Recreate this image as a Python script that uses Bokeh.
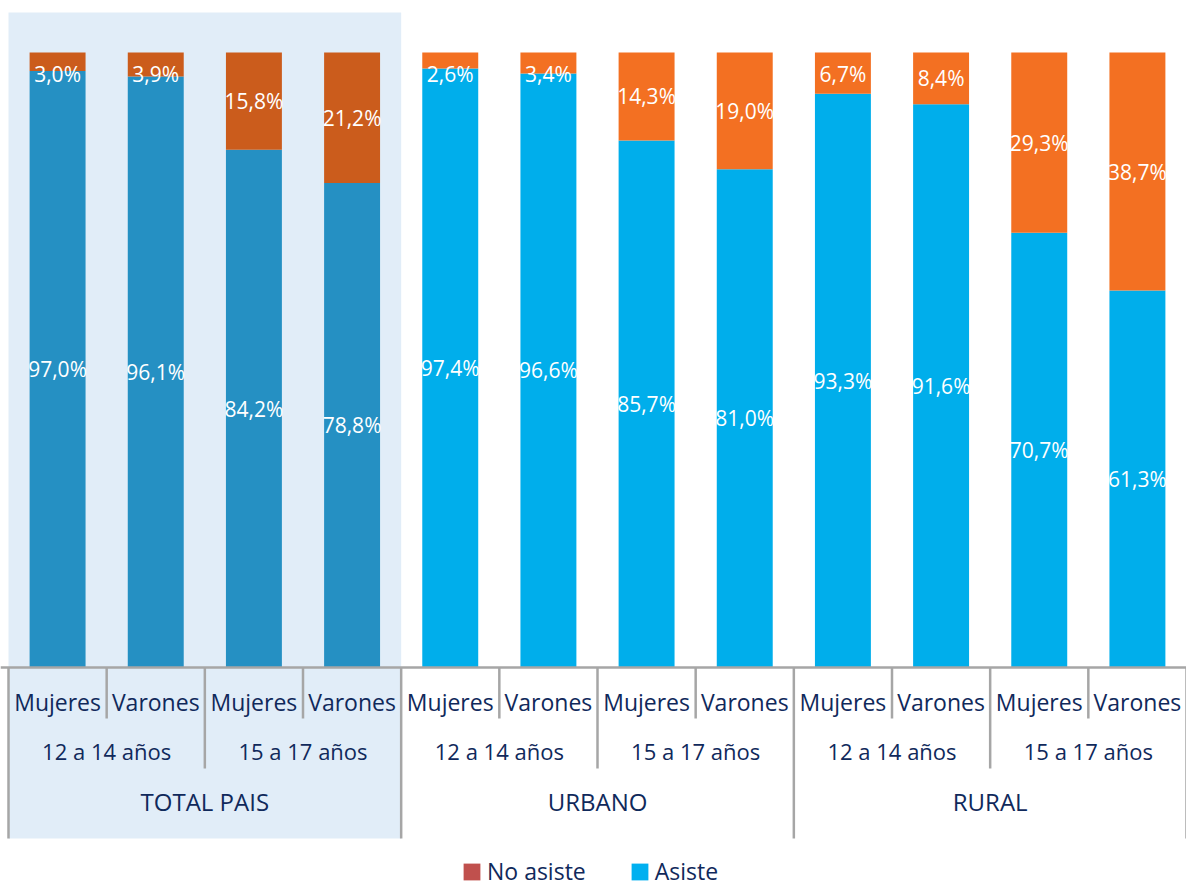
from bokeh.plotting import figure
from bokeh.models import Range1d, Span, Legend, LegendItem, ColumnDataSource
from bokeh.core.properties import value
from bokeh.embed import file_html
from bokeh.resources import INLINE

# ---------------- data ----------------
areas = ["TOTAL PAIS", "URBANO", "RURAL"]
ages = ["12 a 14 años", "15 a 17 años"]
sexes = ["Mujeres", "Varones"]
asiste = [97.0, 96.1, 84.2, 78.8, 97.4, 96.6, 85.7, 81.0, 93.3, 91.6, 70.7, 61.3]
no_asiste = [3.0, 3.9, 15.8, 21.2, 2.6, 3.4, 14.3, 19.0, 6.7, 8.4, 29.3, 38.7]
series_names = ["No asiste", "Asiste"]

# ---------------- styles ----------------
FONT = "Open Sans"
NAVY = "#10295b"
AXIS_GRAY = "#a6a6a6"
SHADE = "#e1edf8"
ASISTE_TOTAL = "#2590c3"
NOASISTE_TOTAL = "#cb5c1c"
ASISTE_OTHER = "#00aeeb"
NOASISTE_OTHER = "#f37022"
LEG_NO = "#c0504d"
LEG_SI = "#00b0f0"

W, H = 1186, 888
LEFT_PX = 8
AXIS_PX = 667                 # page y of the category axis
n = len(asiste)
UNIT_PX = (W - LEFT_PX) / n   # pixels per bar slot
PX_PER_UNIT = 6.15            # pixels per percentage point

p = figure(width=W, height=H, output_backend="svg", toolbar_location=None,
           x_range=Range1d(-LEFT_PX / UNIT_PX, n),
           y_range=Range1d(-(H - AXIS_PX) / PX_PER_UNIT, AXIS_PX / PX_PER_UNIT),
           min_border=0, outline_line_color=None, background_fill_color="white")
p.axis.visible = False
p.grid.visible = False

def ypx(page_y):
    return (AXIS_PX - page_y) / PX_PER_UNIT

# shaded TOTAL PAIS block
per_area = len(ages) * len(sexes)
p.quad(left=[0], right=[per_area], top=[ypx(12)], bottom=[ypx(838)],
       fill_color=SHADE, line_color=None)

# bars
xs = [i + 0.5 for i in range(n)]
is_total = [i < per_area for i in range(n)]
c_si = [ASISTE_TOTAL if t else ASISTE_OTHER for t in is_total]
c_no = [NOASISTE_TOTAL if t else NOASISTE_OTHER for t in is_total]
tops = [a + b for a, b in zip(asiste, no_asiste)]
src = ColumnDataSource(dict(x=xs, si=asiste, no=no_asiste, top_no=tops, c_si=c_si, c_no=c_no))
p.vbar(x="x", bottom=0, top="si", width=0.57, fill_color="c_si", line_color=None, source=src)
p.vbar(x="x", bottom="si", top="top_no", width=0.57, fill_color="c_no", line_color=None, source=src)

# value labels
fmt = lambda v: f"{v:.1f}%".replace(".", ",")
p.text(x=xs, y=[a / 2 for a in asiste], text=[fmt(v) for v in asiste],
       text_color="white", text_font=value(FONT), text_font_size="21px",
       text_align="center", text_baseline="middle")
p.text(x=xs, y=[t - max(b, 7) / 2 for t, b in zip(tops, no_asiste)],
       text=[fmt(v) for v in no_asiste],
       text_color="white", text_font=value(FONT), text_font_size="21px",
       text_align="center", text_baseline="middle")

# axis line
p.add_layout(Span(location=0, dimension="width", line_color=AXIS_GRAY, line_width=2.5))

# separators (multi-level category axis)
sep_x, sep_y1 = [], []
for i in range(n + 1):
    if i % per_area == 0:
        sep_y1.append(ypx(838))
    elif i % len(sexes) == 0:
        sep_y1.append(ypx(768))
    else:
        sep_y1.append(ypx(718))
    sep_x.append(i)
p.segment(x0=sep_x, x1=sep_x, y0=[0] * len(sep_x), y1=sep_y1, line_color=AXIS_GRAY, line_width=2.5)

# level 1 labels
lab_sex = [sexes[i % len(sexes)] for i in range(n)]
p.text(x=xs, y=[ypx(701)] * n, text=lab_sex, text_color=NAVY, text_font=value(FONT),
       text_font_size="23px", text_align="center", text_baseline="middle")
# level 2 labels
age_x, age_t = [], []
for a in range(len(areas)):
    for g in range(len(ages)):
        age_x.append(a * per_area + g * len(sexes) + len(sexes) / 2)
        age_t.append(ages[g])
p.text(x=age_x, y=[ypx(750)] * len(age_x), text=age_t, text_color=NAVY,
       text_font=value(FONT), text_font_size="22px", text_align="center", text_baseline="middle")
# level 3 labels
area_x = [a * per_area + per_area / 2 for a in range(len(areas))]
p.text(x=area_x, y=[ypx(801)] * len(areas), text=areas, text_color=NAVY,
       text_font=value(FONT), text_font_size="24px", text_align="center", text_baseline="middle")

# legend (proxy renderers with a single zero-size quad)
r_no = p.quad(left=[0], right=[0], top=[0], bottom=[0], fill_color=LEG_NO, line_color=None)
r_si = p.quad(left=[0], right=[0], top=[0], bottom=[0], fill_color=LEG_SI, line_color=None)
legend = Legend(items=[LegendItem(label=series_names[0], renderers=[r_no]),
                       LegendItem(label=series_names[1], renderers=[r_si])],
                orientation="horizontal", location=(461, 1),
                glyph_width=21, glyph_height=21, label_standoff=5, spacing=43,
                padding=0, margin=0, border_line_color=None, background_fill_alpha=0,
                label_text_font=FONT, label_text_font_size="23px", label_text_color=NAVY,
                label_height=21)
p.add_layout(legend)

open("out.html", "w").write(file_html(p, INLINE))
